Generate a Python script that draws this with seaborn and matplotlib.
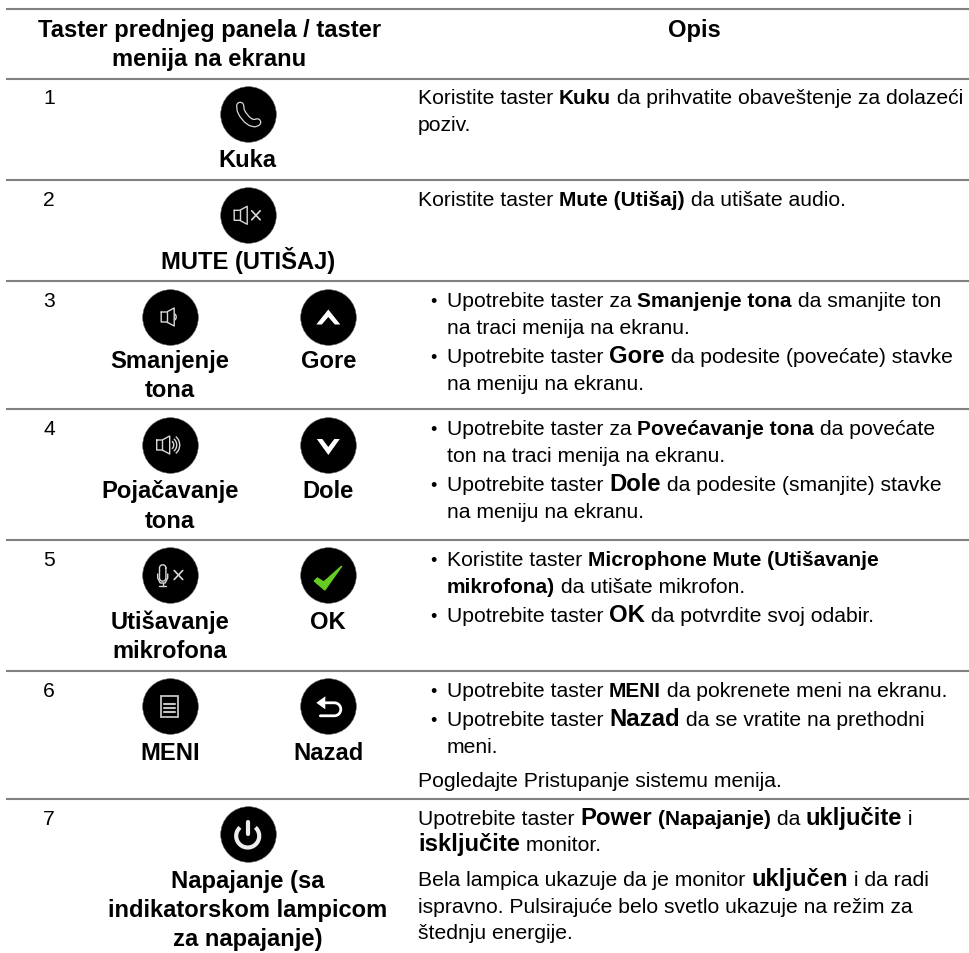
import numpy as np
import pandas as pd
import matplotlib
matplotlib.use('Agg')
import matplotlib.pyplot as plt
import seaborn as sns
from matplotlib.patches import Polygon, Rectangle, Arc

# table text
header_left = ['Taster prednjeg panela / taster', 'menija na ekranu']
header_right = 'Opis'
row_numbers = ['1', '2', '3', '4', '5', '6', '7']
key_labels = ['Kuka', 'MUTE (UTIŠAJ)', 'Smanjenje', 'tona', 'Gore', 'Pojačavanje', 'tona', 'Dole',
              'Utišavanje', 'mikrofona', 'OK', 'MENI', 'Nazad',
              'Napajanje (sa', 'indikatorskom lampicom', 'za napajanje)']

# r = regular, b = bold, B = big bold
desc_lines = [
    [('Koristite taster ', 'r'), ('Kuku', 'b'), (' da prihvatite obaveštenje za dolazeći', 'r')],
    [('poziv.', 'r')],
    [('Koristite taster ', 'r'), ('Mute (Utišaj)', 'b'), (' da utišate audio.', 'r')],
    [('Upotrebite taster za ', 'r'), ('Smanjenje tona', 'b'), (' da smanjite ton', 'r')],
    [('na traci menija na ekranu.', 'r')],
    [('Upotrebite taster ', 'r'), ('Gore', 'B'), (' da podesite (povećate) stavke', 'r')],
    [('na meniju na ekranu.', 'r')],
    [('Upotrebite taster za ', 'r'), ('Povećavanje tona', 'b'), (' da povećate', 'r')],
    [('ton na traci menija na ekranu.', 'r')],
    [('Upotrebite taster ', 'r'), ('Dole', 'B'), (' da podesite (smanjite) stavke', 'r')],
    [('na meniju na ekranu.', 'r')],
    [('Koristite taster ', 'r'), ('Microphone Mute (Utišavanje', 'b')],
    [('mikrofona)', 'b'), (' da utišate mikrofon.', 'r')],
    [('Upotrebite taster ', 'r'), ('OK', 'B'), (' da potvrdite svoj odabir.', 'r')],
    [('Upotrebite taster ', 'r'), ('MENI', 'b'), (' da pokrenete meni na ekranu.', 'r')],
    [('Upotrebite taster ', 'r'), ('Nazad', 'B'), (' da se vratite na prethodni', 'r')],
    [('meni.', 'r')],
    [('Pogledajte Pristupanje sistemu menija.', 'r')],
    [('Upotrebite taster ', 'r'), ('Power', 'B'), (' ', 'r'), ('(Napajanje)', 'b'), (' da ', 'r'), ('uključite', 'B'), (' i', 'r')],
    [('isključite', 'B'), (' monitor.', 'r')],
    [('Bela lampica ukazuje da je monitor ', 'r'), ('uključen', 'B'), (' i da radi', 'r')],
    [('ispravno. Pulsirajuće belo svetlo ukazuje na režim za', 'r')],
    [('štednju energije.', 'r')],
]

# layout, in pixels of the picture
rule_y = [10, 80, 181, 282, 410, 541, 672, 800]
header_y = [36.7, 66]
number_y = [104, 206, 307, 435, 566, 697, 825]
key_x = [247.7, 247.7, 169.7, 169.7, 328.3, 169.7, 169.7, 328.3, 169.7, 169.7, 328.3, 169.7, 328.3, 247.7, 247.7, 247.7]
key_y = [167.3, 268.7, 368.3, 397.3, 368.3, 498.3, 527.7, 498.3, 629, 658, 629, 760, 760, 888.3, 917.3, 945.7]
desc_y = [104, 130.7, 206, 307, 334, 362.7, 390, 435, 461.7, 490.7, 518, 566, 593, 621.7,
          696.7, 725.7, 753, 786.7, 824.7, 851, 885.7, 913, 939]
# first line of each bullet gets a dot, continuation lines keep the indent
desc_kind = ['p', 'p', 'p', 'd', 'c', 'd', 'c', 'd', 'c', 'd', 'c', 'd', 'c', 'd', 'd', 'd', 'c', 'p', 'p', 'p', 'p', 'p', 'p']

icon_names = ['phone', 'mute', 'vol_down', 'up', 'vol_up', 'down', 'mic', 'ok', 'menu', 'back', 'power']
icon_x = [247.7, 247.7, 169.7, 328.3, 169.7, 328.3, 169.7, 328.3, 169.7, 328.3, 247.7]
icon_y = [115.3, 216.3, 318, 318, 446, 446, 576, 576, 707.3, 707.3, 835]

sizes = {'r': 15.25, 'b': 15.0, 'B': 17.2}
weights = {'r': 'normal', 'b': 'bold', 'B': 'bold'}
LABEL_SIZE = 17.1
ICON_GREY = '#d8d8d8'

sns.set_theme(style='white')
plt.rcParams['font.family'] = ['Liberation Sans', 'DejaVu Sans']

fig, ax = plt.subplots(figsize=(9.70, 9.54), dpi=100)
fig.subplots_adjust(left=0, right=1, bottom=0, top=1)
ax.set_xlim(0, 970)
ax.set_ylim(954, 0)
ax.axis('off')

ax.hlines(rule_y, 6, 970, color='#808080', lw=1.5)

df = pd.DataFrame({'name': icon_names, 'x': icon_x, 'y': icon_y})
sns.scatterplot(data=df, x='x', y='y', ax=ax, s=1600, color='black', edgecolor='#555555', linewidth=0.4, legend=False, zorder=2)
ax.set_xlabel('')
ax.set_ylabel('')


def line(cx, cy, xs, ys, color=ICON_GREY, lw=1.0):
    ax.plot(np.array(xs) + cx, np.array(ys) + cy, color=color, lw=lw, zorder=3, solid_capstyle='round', solid_joinstyle='round')


def speaker(cx, cy):
    line(cx, cy, [-4, 1.5, 9, 9, 1.5, -4, -4], [-5, -5, -9, 9, 5, 5, -5])
    line(cx, cy, [1.5, 1.5], [-5, 5])


def wave(cx, cy, r, span=50):
    ax.add_patch(Arc((cx, cy), 2 * r, 2 * r, theta1=-span, theta2=span, color=ICON_GREY, lw=1.0, zorder=3))


def draw_icon(name, cx, cy):
    if name == 'phone':
        xs = [-7.5, -7, -5, -1, 3, 7, 9.5]
        ys = [-8.5, -4, 0, 5, 8, 9, 8]
        line(cx, cy, xs, ys, lw=6.0)
        line(cx, cy, xs, ys, color='black', lw=4.2)
    elif name == 'mute':
        speaker(cx - 9.5, cy)
        line(cx, cy, [4, 12.5], [-4.5, 4.5], lw=1.2)
        line(cx, cy, [4, 12.5], [4.5, -4.5], lw=1.2)
    elif name == 'vol_down':
        speaker(cx - 4.5, cy)
        wave(cx + 2.5, cy, 4)
    elif name == 'vol_up':
        speaker(cx - 9, cy)
        wave(cx - 1, cy, 5)
        wave(cx - 1, cy, 8)
        wave(cx - 1, cy, 11)
    elif name == 'up':
        shape = np.array([[-12, 7.5], [0, -7.5], [12, 7.5], [6.5, 7.5], [0, 0], [-6.5, 7.5]])
        ax.add_patch(Polygon(shape + [cx, cy], color='white', lw=0, zorder=3))
    elif name == 'down':
        shape = np.array([[-11.5, -6], [0, 10], [11.5, -6], [6, -6], [0, 2], [-6, -6]])
        ax.add_patch(Polygon(shape + [cx, cy], color='white', lw=0, zorder=3))
    elif name == 'mic':
        t = np.linspace(0, np.pi, 20)
        xs = np.r_[-7 + 3.2 * np.cos(t), -7 - 3.2 * np.cos(t), -7 + 3.2]
        ys = np.r_[-7 - 3.2 * np.sin(t), 3 + 3.2 * np.sin(t), -7]
        line(cx, cy, xs, ys)
        line(cx, cy, [-12, -12, -9.5, -4.5, -2, -2], [-1, 3, 8, 8, 3, -1])
        line(cx, cy, [-7, -7], [8, 11])
        line(cx, cy, [-10.5, -3.5], [11, 11])
        line(cx, cy, [4.5, 13], [-4.5, 4.5], lw=1.2)
        line(cx, cy, [4.5, 13], [4.5, -4.5], lw=1.2)
    elif name == 'ok':
        tick = np.array([[-14, 6], [-11, 3], [-4.5, 7], [13.5, -9], [-3.5, 15]])
        ax.add_patch(Polygon(tick + [cx, cy], color='#66cc22', zorder=3))
    elif name == 'menu':
        ax.add_patch(Rectangle((cx - 8.3, cy - 10.7), 16.6, 21.7, fc='none', ec='#c4c4c4', lw=1.3, zorder=3))
        for dy in [-2.3, 1.7, 6]:
            line(cx, cy, [-5.5, 5.5], [dy, dy], color='#c4c4c4', lw=1.5)
    elif name == 'back':
        t = np.linspace(-np.pi / 2, np.pi / 2, 20)
        xs = np.r_[-6, 6 + 6.5 * np.cos(t), -8]
        ys = np.r_[-3.5, 3 + 6.5 * np.sin(t), 9.5]
        line(cx, cy, xs, ys, color='white', lw=2.0)
        ax.add_patch(Polygon(np.array([[-12, -3.5], [-3, -10], [-3, 3]]) + [cx, cy], color='white', lw=0, zorder=3))
    elif name == 'power':
        ax.add_patch(Arc((cx, cy + 2), 23, 23, theta1=-48, theta2=228, color='#eeeeee', lw=3.0, zorder=3))
        line(cx, cy, [0, 0], [-12, 0], color='#eeeeee', lw=3.0)


for name, cx, cy in zip(icon_names, icon_x, icon_y):
    draw_icon(name, cx, cy)

# header and left columns
for txt, y in zip(header_left, header_y):
    ax.text(209.5, y, txt, ha='center', va='baseline', fontsize=LABEL_SIZE, fontweight='bold', color='black')
ax.text(694, header_y[0], header_right, ha='center', va='baseline', fontsize=LABEL_SIZE, fontweight='bold', color='black')
for txt, y in zip(row_numbers, number_y):
    ax.text(49, y, txt, ha='center', va='baseline', fontsize=sizes['r'], color='black')
for txt, x, y in zip(key_labels, key_x, key_y):
    ax.text(x, y, txt, ha='center', va='baseline', fontsize=LABEL_SIZE, fontweight='bold', color='black')

# description column, runs of mixed weight placed one after another
renderer = fig.canvas.get_renderer()


def run_width(txt, style):
    # x on both ends so the spaces are counted
    probe = ax.text(0, 0, 'x' + txt + 'x', fontsize=sizes[style], fontweight=weights[style])
    ref = ax.text(0, 0, 'xx', fontsize=sizes[style], fontweight=weights[style])
    w = probe.get_window_extent(renderer).width - ref.get_window_extent(renderer).width
    probe.remove()
    ref.remove()
    return w


for runs, y, kind in zip(desc_lines, desc_y, desc_kind):
    x = 418 if kind == 'p' else 446.7
    if kind == 'd':
        ax.text(433, y, '•', ha='center', va='baseline', fontsize=13, color='black')
    for txt, style in runs:
        ax.text(x, y, txt, ha='left', va='baseline', fontsize=sizes[style], fontweight=weights[style], color='black')
        x += run_width(txt, style)

fig.savefig('out.png', dpi=100)
